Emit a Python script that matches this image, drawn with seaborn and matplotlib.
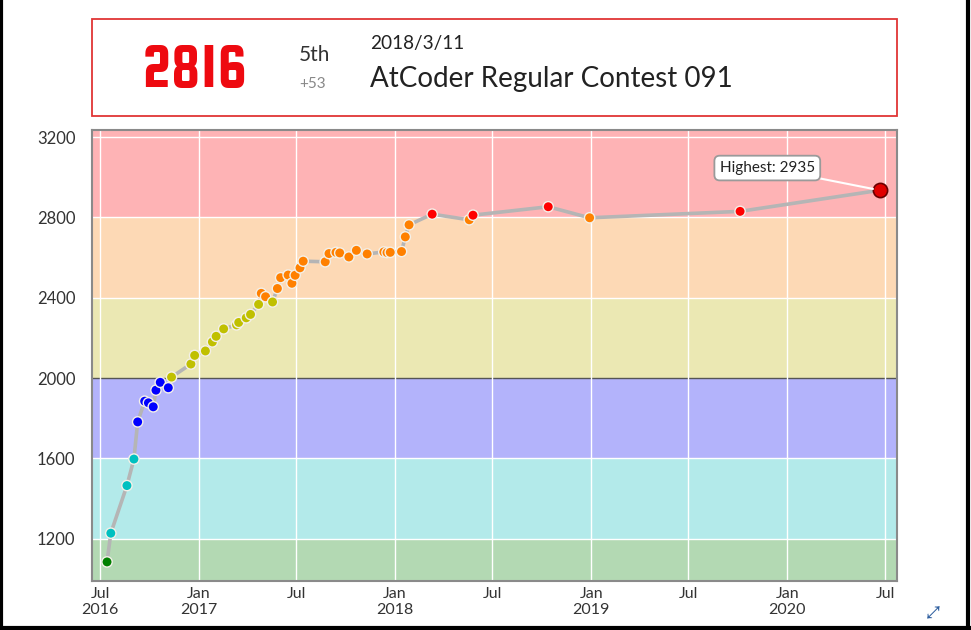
import pandas as pd
import matplotlib
matplotlib.use("Agg")
import matplotlib.pyplot as plt
from matplotlib.patches import Rectangle
from matplotlib.lines import Line2D
import seaborn as sns

# rating history
dates = ['2016-07-14', '2016-07-21', '2016-08-20', '2016-09-02', '2016-09-09', '2016-09-22',
         '2016-09-29', '2016-10-08', '2016-10-13', '2016-10-21', '2016-11-05', '2016-11-11',
         '2016-12-17', '2016-12-24', '2017-01-13', '2017-01-26', '2017-02-02', '2017-02-16',
         '2017-03-12', '2017-03-16', '2017-03-30', '2017-04-07', '2017-04-22', '2017-04-27',
         '2017-05-05', '2017-05-18', '2017-05-27', '2017-06-02', '2017-06-16', '2017-06-23',
         '2017-06-29', '2017-07-08', '2017-07-14', '2017-08-24', '2017-08-31', '2017-09-13',
         '2017-09-20', '2017-10-07', '2017-10-21', '2017-11-10', '2017-12-11', '2017-12-17',
         '2017-12-23', '2018-01-13', '2018-01-20', '2018-01-27', '2018-03-11', '2018-05-19',
         '2018-05-26', '2018-10-13', '2018-12-29', '2019-10-05', '2020-06-21']
ratings = [1085, 1228, 1465, 1597, 1782, 1885,
           1877, 1857, 1940, 1979, 1952, 2005,
           2070, 2113, 2135, 2180, 2208, 2245,
           2265, 2277, 2300, 2317, 2367, 2422,
           2405, 2379, 2446, 2500, 2513, 2472,
           2512, 2549, 2582, 2579, 2620, 2626,
           2623, 2603, 2636, 2618, 2628, 2625,
           2626, 2630, 2703, 2763, 2816, 2788,
           2811, 2853, 2798, 2830, 2935]

band_edges = [0, 1200, 1600, 2000, 2400, 2800, 4000]
band_names = ['green', 'cyan', 'blue', 'yellow', 'orange', 'red']
band_fill = ['#b3d9b3', '#b3eaea', '#b3b3fb', '#ebe8b3', '#fdd9b5', '#feb3b5']
dot_color = ['#008000', '#00c0c0', '#0000ff', '#c0c000', '#ff8000', '#ff0000']

tick_dates = ['2016-07-01', '2017-01-01', '2017-07-01', '2018-01-01', '2018-07-01',
              '2019-01-01', '2019-07-01', '2020-01-01', '2020-07-01']
tick_labels = ['Jul\n2016', 'Jan\n2017', 'Jul', 'Jan\n2018', 'Jul',
               'Jan\n2019', 'Jul', 'Jan\n2020', 'Jul']
y_ticks = [1200, 1600, 2000, 2400, 2800, 3200]

last_rating = '2816'
last_place = '5th'
last_diff = '+53'
last_date = '2018/3/11'
last_contest = 'AtCoder Regular Contest 091'

df = pd.DataFrame({'date': pd.to_datetime(dates), 'rating': ratings})
df['rank'] = pd.cut(df['rating'], band_edges, labels=band_names, right=False)

sns.set_theme(style='white')
plt.rcParams['font.family'] = ['Lato', 'DejaVu Sans']

W, H = 971, 630
fig = plt.figure(figsize=(W / 100, H / 100), dpi=100)
ax = fig.add_axes([92 / W, 1 - 581 / H, (897 - 92) / W, (581 - 130) / H])

# colour bands
for lo, hi, c in zip(band_edges[:-1], band_edges[1:], band_fill):
    ax.axhspan(lo, hi, color=c, lw=0, zorder=0)
for y in y_ticks:
    ax.axhline(y, color='#555555' if y == 2000 else 'white', lw=1, zorder=1)
for d in tick_dates:
    ax.axvline(pd.Timestamp(d), color='white', lw=1, zorder=1)

sns.lineplot(data=df, x='date', y='rating', color='#b5b5b5', lw=2.6, ax=ax, zorder=2)
sns.scatterplot(data=df, x='date', y='rating', hue='rank',
                palette=dict(zip(band_names, dot_color)), s=55,
                edgecolor='#f4f0e8', linewidth=1, legend=False, ax=ax, zorder=3)

top = df.loc[df['rating'].idxmax()]
ax.scatter([top['date']], [top['rating']], s=105, color='#e00000',
           edgecolor='#6a0000', linewidth=1.2, zorder=4)
ax.annotate(f"Highest: {top['rating']}", xy=(top['date'], top['rating']),
            xytext=(-81, 16), textcoords='offset points', ha='center', va='center',
            fontsize=11, color='#222222',
            bbox=dict(boxstyle='round,pad=0.35', fc='white', ec='#9a9a9a', lw=1.3),
            arrowprops=dict(arrowstyle='-', color='white', lw=1.5, shrinkA=0, shrinkB=5),
            zorder=5)

ax.set_xlim(pd.Timestamp('2016-06-16'), pd.Timestamp('2020-07-23'))
ax.set_ylim(990, 3235)
ax.set_xticks(pd.to_datetime(tick_dates))
ax.set_xticklabels(tick_labels, fontsize=11.5, color='#333333', linespacing=1.2)
ax.set_yticks(y_ticks)
ax.set_yticklabels([str(v) for v in y_ticks], fontsize=12, color='#333333')
ax.tick_params(axis='x', length=0, pad=4)
ax.tick_params(axis='y', length=0, pad=12)
ax.set_xlabel('')
ax.set_ylabel('')
for s in ax.spines.values():
    s.set_color('#8a8a8a')
    s.set_linewidth(1.5)

# header box with the latest contest
fig.patches.append(Rectangle((92 / W, 1 - 116 / H), 805 / W, 97 / H, transform=fig.transFigure,
                             fc='white', ec='#e03535', lw=1.3))
fig.text(195 / W, 1 - 71 / H, last_rating, ha='center', va='center', fontsize=46,
         fontweight='bold', color='#ee0a10', family=['Squada One', 'Barlow Condensed', 'DejaVu Sans'])
fig.text(314 / W, 1 - 55 / H, last_place, ha='center', va='center', fontsize=15, color='#333333')
fig.text(313 / W, 1 - 84 / H, last_diff, ha='center', va='center', fontsize=11, color='#888888')
fig.text(370 / W, 1 - 43 / H, last_date, ha='left', va='center', fontsize=13.7, color='#222222')
fig.text(370 / W, 1 - 79 / H, last_contest, ha='left', va='center', fontsize=20, color='#222222')

fig.text(933 / W, 1 - 615 / H, '\u2922', ha='center', va='center', fontsize=18,
         color='#2f5f9f', family=['Noto Sans Symbols', 'Noto Sans Math', 'DejaVu Sans'])

# dark frame of the screenshot
for xs, ys in [([0.001, 0.001], [0, 1]), ([0.997, 0.997], [0, 1]), ([0, 1], [0.003, 0.003])]:
    fig.add_artist(Line2D(xs, ys, transform=fig.transFigure, color='black', lw=3))

fig.savefig('out.png', dpi=100)
